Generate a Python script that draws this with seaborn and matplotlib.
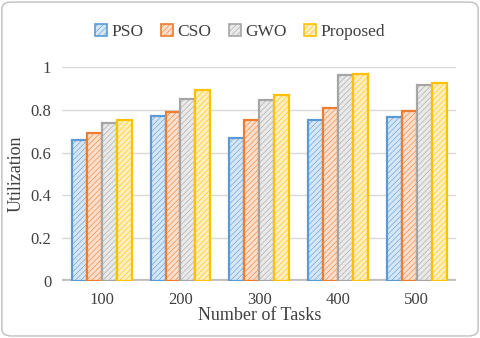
import pandas as pd
import matplotlib.pyplot as plt
import seaborn as sns
from matplotlib.patches import FancyBboxPatch, Patch
from matplotlib.colors import to_rgb

tasks = ['100', '200', '300', '400', '500']
methods = ['PSO', 'CSO', 'GWO', 'Proposed']
pso = [0.66, 0.77, 0.67, 0.75, 0.765]
cso = [0.69, 0.79, 0.75, 0.81, 0.795]
gwo = [0.74, 0.85, 0.845, 0.96, 0.915]
proposed = [0.75, 0.89, 0.87, 0.965, 0.925]
colors = ['#5B9BD5', '#ED7D31', '#A5A5A5', '#FFC000']

rows = []
for m, vals in zip(methods, [pso, cso, gwo, proposed]):
    for t, v in zip(tasks, vals):
        rows.append({'Tasks': t, 'Method': m, 'Utilization': v})
df = pd.DataFrame(rows)

sns.set_style("white")
plt.rcParams['font.family'] = ['Liberation Serif', 'DejaVu Serif']
plt.rcParams['hatch.linewidth'] = 0.4

fig = plt.figure(figsize=(4.8, 3.38), dpi=100)
ax = fig.add_axes([0.13, 0.169, 0.82, 0.633])

sns.barplot(data=df, x='Tasks', y='Utilization', hue='Method', palette=colors,
            width=0.76, ax=ax, legend=False)


def light(c, f=0.75):
    r, g, b = to_rgb(c)
    return (r + (1 - r) * f, g + (1 - g) * f, b + (1 - b) * f)


for cont, c in zip(ax.containers, colors):
    for p in cont:
        p.set_facecolor(light(c))
        p.set_edgecolor(c)
        p.set_linewidth(1.6)
        p.set_hatch('//////')

ax.set_ylim(0, 1)
ax.set_yticks([0, 0.2, 0.4, 0.6, 0.8, 1])
ax.set_yticklabels(['0', '0.2', '0.4', '0.6', '0.8', '1'])
ax.yaxis.grid(True, color='#D9D9D9', linewidth=1)
ax.set_axisbelow(True)
for s in ax.spines.values():
    s.set_visible(False)
ax.axhline(0, color='#BFBFBF', linewidth=3, zorder=0.5)
ax.tick_params(axis='both', length=0, labelsize=12, colors='#404040', pad=8)
ax.set_xlabel('Number of Tasks', fontsize=13, color='#404040', labelpad=-1)
ax.set_ylabel('Utilization', fontsize=13, color='#404040', labelpad=4)

handles = [Patch(facecolor=light(c), edgecolor=c, hatch='//////', linewidth=1.2)
           for c in colors]
fig.legend(handles, methods, loc='upper center', bbox_to_anchor=(0.5, 0.975), ncol=4,
           frameon=False, fontsize=12.5, handlelength=0.7, handleheight=0.7,
           handletextpad=0.25, columnspacing=1.0, labelcolor='#404040')

border = FancyBboxPatch((0.004, 0.006), 0.992, 0.988, boxstyle='round,pad=0,rounding_size=0.02',
                        transform=fig.transFigure, fill=False, edgecolor='#BFBFBF', linewidth=1)
fig.patches.append(border)

fig.savefig('out.png', dpi=100)
